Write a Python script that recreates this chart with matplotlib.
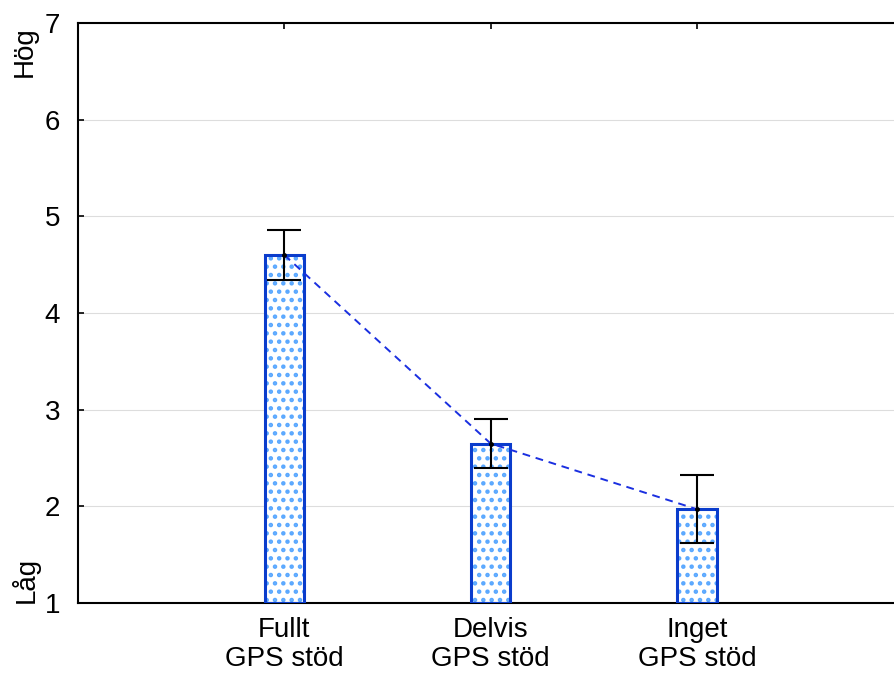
import numpy as np
import matplotlib.pyplot as plt

plt.rcParams['font.family'] = ['Liberation Sans', 'DejaVu Sans']
plt.rcParams['hatch.linewidth'] = 2.0

# data
categories = ['Fullt\nGPS stöd', 'Delvis\nGPS stöd', 'Inget\nGPS stöd']
means = [4.60, 2.65, 1.97]
err = [0.26, 0.25, 0.35]
ytick_vals = [1, 2, 3, 4, 5, 6, 7]

x = np.arange(1, len(categories) + 1)

fig = plt.figure(figsize=(8.95, 6.75), dpi=100)
ax = fig.add_axes([78 / 895, 1 - 603 / 675, 1 - 78 / 895, 580 / 675])

# dotted fill, then dark outline on top
ax.bar(x, np.array(means) - 1, bottom=1, width=0.19, color='white',
       edgecolor='#5aa8ff', hatch='..', linewidth=0, zorder=2)
ax.bar(x, np.array(means) - 1, bottom=1, width=0.19, fill=False,
       edgecolor='#0a3ccc', linewidth=2.2, zorder=3)

ax.plot(x, means, ls=(0, (4, 3)), color='#1a2fe0', lw=1.4, zorder=4)
ax.errorbar(x, means, yerr=err, fmt='o', color='black', ms=2.5,
            capsize=12, capthick=1.5, elinewidth=1.5, zorder=5)

ax.set_xlim(0, 3.96)
ax.set_ylim(1, 7)
ax.set_yticks(ytick_vals)
ax.set_xticks(x)
ax.set_xticklabels(categories, linespacing=1.15)
ax.tick_params(axis='both', direction='in', length=4, width=1.2, labelsize=20)
ax.tick_params(axis='x', top=True, pad=10)
ax.tick_params(axis='y', pad=13)
ax.grid(axis='y', color='#dddddd', lw=0.8, zorder=0)
ax.spines['right'].set_visible(False)
for s in ['left', 'top', 'bottom']:
    ax.spines[s].set_linewidth(1.5)

fig.text(25 / 895, 1 - 52 / 675, 'Hög', rotation=90, fontsize=20, ha='center', va='center')
fig.text(25 / 895, 1 - 580 / 675, 'Låg', rotation=90, fontsize=20, ha='center', va='center')

fig.savefig('out.png', dpi=100)
